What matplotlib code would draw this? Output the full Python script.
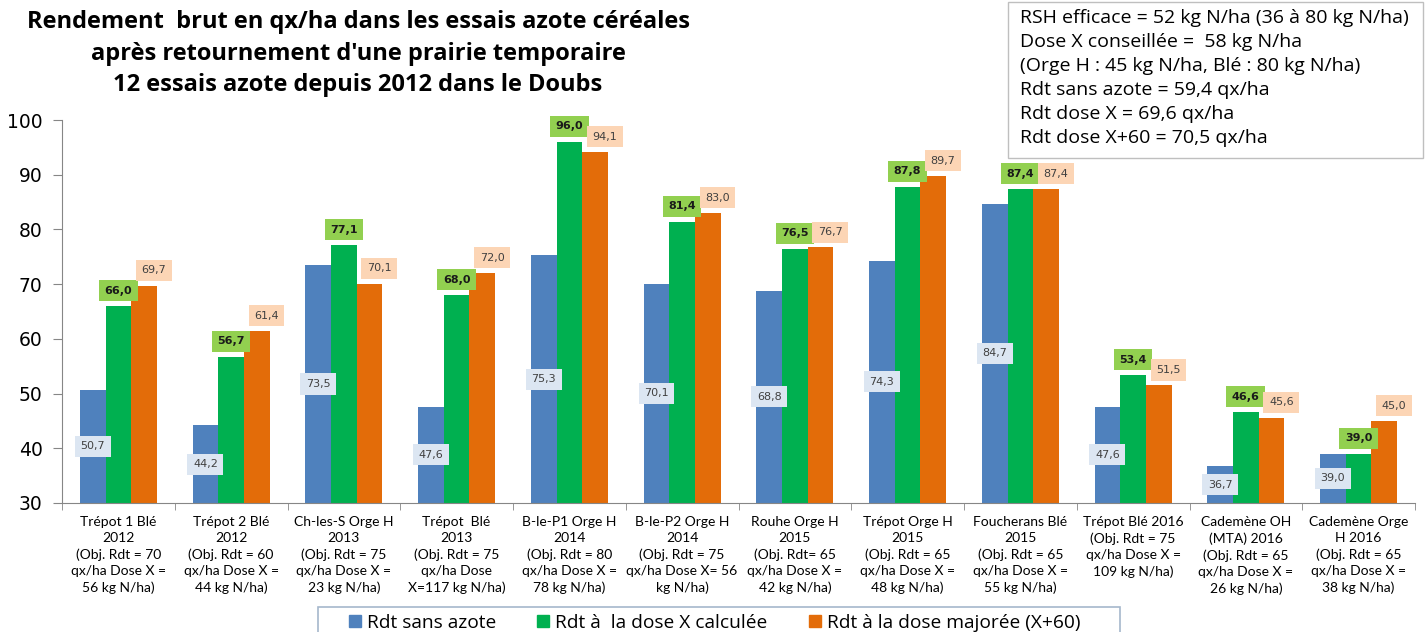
import matplotlib
matplotlib.use("Agg")
import matplotlib.pyplot as plt
from matplotlib.patches import Rectangle, Patch
import numpy as np

categories = [
    "Trépot 1 Blé\n2012\n(Obj. Rdt = 70\nqx/ha Dose X =\n56 kg N/ha)",
    "Trépot 2 Blé\n2012\n(Obj. Rdt = 60\nqx/ha Dose X =\n44 kg N/ha)",
    "Ch-les-S Orge H\n2013\n(Obj. Rdt = 75\nqx/ha Dose X =\n23 kg N/ha)",
    "Trépot  Blé\n2013\n(Obj. Rdt = 75\nqx/ha Dose\nX=117 kg N/ha)",
    "B-le-P1 Orge H\n2014\n(Obj. Rdt = 80\nqx/ha Dose X =\n78 kg N/ha)",
    "B-le-P2 Orge H\n2014\n(Obj. Rdt = 75\nqx/ha Dose X= 56\nkg N/ha)",
    "Rouhe Orge H\n2015\n(Obj. Rdt= 65\nqx/ha Dose X =\n42 kg N/ha)",
    "Trépot Orge H\n2015\n(Obj. Rdt = 65\nqx/ha Dose X =\n48 kg N/ha)",
    "Foucherans Blé\n2015\n(Obj. Rdt = 65\nqx/ha Dose X =\n55 kg N/ha)",
    "Trépot Blé 2016\n(Obj. Rdt = 75\nqx/ha Dose X =\n109 kg N/ha)",
    "Cademène OH\n(MTA) 2016\n(Obj. Rdt = 65\nqx/ha Dose X =\n26 kg N/ha)",
    "Cademène Orge\nH 2016\n(Obj. Rdt = 65\nqx/ha Dose X =\n38 kg N/ha)",
]
rdt_sans_azote = [50.7, 44.2, 73.5, 47.6, 75.3, 70.1, 68.8, 74.3, 84.7, 47.6, 36.7, 39.0]
rdt_dose_x = [66.0, 56.7, 77.1, 68.0, 96.0, 81.4, 76.5, 87.8, 87.4, 53.4, 46.6, 39.0]
rdt_dose_majoree = [69.7, 61.4, 70.1, 72.0, 94.1, 83.0, 76.7, 89.7, 87.4, 51.5, 45.6, 45.0]
series_names = ["Rdt sans azote", "Rdt à  la dose X calculée", "Rdt à la dose majorée (X+60)"]
title_lines = [
    "Rendement  brut en qx/ha dans les essais azote céréales",
    "après retournement d'une prairie temporaire",
    "12 essais azote depuis 2012 dans le Doubs",
]
info_lines = [
    "RSH efficace = 52 kg N/ha (36 à 80 kg N/ha)",
    "Dose X conseillée =  58 kg N/ha",
    "(Orge H : 45 kg N/ha, Blé : 80 kg N/ha)",
    "Rdt sans azote = 59,4 qx/ha",
    "Rdt dose X = 69,6 qx/ha",
    "Rdt dose X+60 = 70,5 qx/ha",
]

W, H = 1426, 632
fig = plt.figure(figsize=(W / 100, H / 100), dpi=100)
ax = fig.add_axes([62 / W, 1 - 503 / H, (1415 - 62) / W, (503 - 120) / H])

c_blue, c_green, c_orange = "#4F81BD", "#00B050", "#E36C09"
bw = 0.228
x = np.arange(len(categories))
ymin = 30

def fmt(v):
    return f"{v:.1f}".replace(".", ",")

ax.bar(x - bw, np.array(rdt_sans_azote) - ymin, bw, bottom=ymin, color=c_blue, linewidth=0)
ax.bar(x, np.array(rdt_dose_x) - ymin, bw, bottom=ymin, color=c_green, linewidth=0)
ax.bar(x + bw, np.array(rdt_dose_majoree) - ymin, bw, bottom=ymin, color=c_orange, linewidth=0)

lab_font = "DejaVu Sans"
lab_size = 8
for xi, v in zip(x, rdt_sans_azote):
    ax.text(xi - bw, (ymin + v) / 2, fmt(v), ha="center", va="center", fontsize=lab_size,
            family=lab_font, color="#404040",
            bbox=dict(boxstyle="square,pad=0.5", fc="#DCE6F2", ec="none"))
for xi, v in zip(x, rdt_dose_x):
    ax.annotate(fmt(v), (xi, v), xytext=(0, 7.5), textcoords="offset points",
                ha="center", va="bottom", fontsize=lab_size, family=lab_font, fontweight="bold",
                color="#1a1a1a", annotation_clip=False,
                bbox=dict(boxstyle="square,pad=0.5", fc="#92D050", ec="none"))
for xi, v in zip(x, rdt_dose_majoree):
    ax.annotate(fmt(v), (xi + bw, v), xytext=(7, 7.5), textcoords="offset points",
                ha="center", va="bottom", fontsize=lab_size, family=lab_font,
                color="#404040", annotation_clip=False,
                bbox=dict(boxstyle="square,pad=0.5", fc="#FCD5B5", ec="none"))

ax.set_ylim(30, 100)
ax.set_xlim(-0.5, len(categories) - 0.5)
ax.set_yticks(range(30, 101, 10))
ax.tick_params(axis="y", labelsize=13.5, length=6.5, color="#868686", pad=7.5)
for t in ax.get_yticklabels():
    t.set_family("DejaVu Sans")
ax.set_xticks(x)
ax.set_xticklabels(categories, fontsize=10, family="Lato", linespacing=1.43)
ax.tick_params(axis="x", length=0, pad=9)
ax.set_xticks(np.arange(-0.5, len(categories), 1), minor=True)
ax.tick_params(axis="x", which="minor", length=5, color="#868686")
for s in ["top", "right"]:
    ax.spines[s].set_visible(False)
for s in ["left", "bottom"]:
    ax.spines[s].set_color("#868686")

for i, line in enumerate(title_lines):
    fig.text(358 / W, 1 - (22 + 31.5 * i) / H, line, ha="center", va="center", fontsize=17,
             fontweight="bold", family="Open Sans")

fig.patches.append(Rectangle((1008 / W, 1 - 158 / H), (1423 - 1008) / W, (158 - 2) / H,
                             transform=fig.transFigure, fc="white", ec="#BFBFBF", lw=1))
for i, line in enumerate(info_lines):
    fig.text(1020 / W, 1 - (18 + 24 * i) / H, line, ha="left", va="center",
             fontsize=14, family="Open Sans")

# legend frame (extends past the bottom edge, as in the reference)
fig.patches.append(Rectangle((318 / W, 1 - 640 / H), (1120 - 318) / W, (640 - 607) / H,
                             transform=fig.transFigure, fc="white", ec="#A6B8CC", lw=1.2))
handles = [Patch(color=c) for c in (c_blue, c_green, c_orange)]
leg = fig.legend(handles, series_names, loc="center left",
                 bbox_to_anchor=(341 / W, 1 - 623 / H), ncol=3, frameon=False,
                 prop=dict(family="Open Sans", size=13.8), handlelength=0.62, handleheight=0.62,
                 columnspacing=2.15, handletextpad=0.32, borderpad=0.4,
                 borderaxespad=0)

fig.savefig("out.png", dpi=100)
